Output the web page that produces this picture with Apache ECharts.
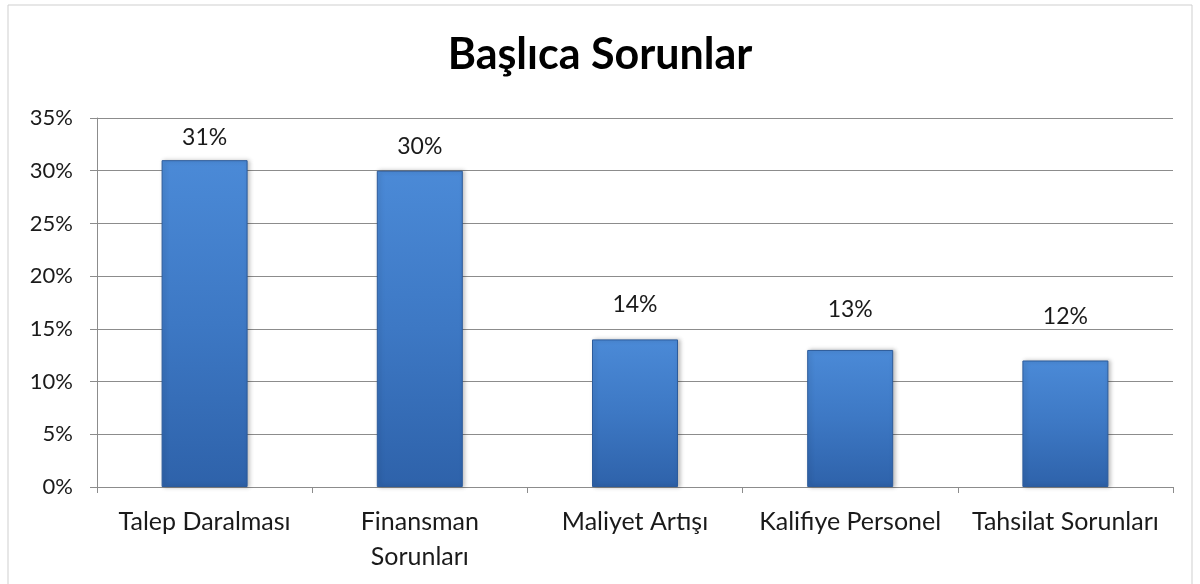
<!DOCTYPE html>
<html>
<head>
<meta charset="utf-8">
<script src="https://cdn.jsdelivr.net/npm/echarts@6/dist/echarts.min.js"></script>
<style>
  html, body { margin: 0; padding: 0; background: #fff; }
  #chart { width: 1200px; height: 584px; }
</style>
</head>
<body>
<div id="chart"></div>
<script>
const categories = ['Talep Daralması', 'Finansman\nSorunları', 'Maliyet Artışı', 'Kalifiye Personel', 'Tahsilat Sorunları'];
const values = [31, 30, 14, 13, 12];
const yTicks = [0, 5, 10, 15, 20, 25, 30, 35];
// gap between bar top and its label, as placed in the original
const labelGap = [11, 13, 23, 29, 32];

const font = 'Lato, "Open Sans", sans-serif';
const myChart = echarts.init(document.getElementById('chart'));
myChart.setOption({
  backgroundColor: '#fff',
  title: {
    text: 'Başlıca Sorunlar',
    left: 'center',
    top: 29,
    textStyle: { fontFamily: font, fontSize: 43, fontWeight: 'bold', color: '#000' }
  },
  graphic: [{
    type: 'rect',
    shape: { x: 8, y: 5, width: 1184, height: 600 },
    style: { fill: 'none', stroke: '#cfcfcf', lineWidth: 1 },
    silent: true
  }],
  grid: { left: 97, right: 27, top: 118, bottom: 97 },
  xAxis: {
    type: 'category',
    data: categories,
    axisLine: { lineStyle: { color: '#8c8c8c' } },
    axisTick: { show: true, length: 6, lineStyle: { color: '#8c8c8c' } },
    axisLabel: { fontFamily: font, fontSize: 25, color: '#1a1a1a', margin: 17, lineHeight: 35, interval: 0 }
  },
  yAxis: {
    type: 'value',
    min: yTicks[0],
    max: yTicks[yTicks.length - 1],
    interval: 5,
    axisLine: { show: true, lineStyle: { color: '#8c8c8c' } },
    axisTick: { show: true, length: 7, lineStyle: { color: '#8c8c8c' } },
    splitLine: { lineStyle: { color: '#8c8c8c' } },
    axisLabel: { fontFamily: font, fontSize: 22, color: '#1a1a1a', margin: 24, formatter: '{value}%' }
  },
  series: [{
    type: 'bar',
    data: values.map((v, i) => ({ value: v, label: { distance: labelGap[i] } })),
    barWidth: 86,
    itemStyle: {
      color: new echarts.graphic.LinearGradient(0, 0, 0, 1, [
        { offset: 0, color: '#4b8ad7' },
        { offset: 0.5, color: '#3d78c4' },
        { offset: 1, color: '#2e62aa' }
      ]),
      borderColor: '#2c5b9b',
      borderWidth: 1,
      shadowColor: 'rgba(0,0,0,0.25)',
      shadowBlur: 4,
      shadowOffsetX: 2,
      shadowOffsetY: 0
    },
    label: {
      show: true,
      position: 'top',
      formatter: '{c}%',
      fontFamily: font,
      fontSize: 23,
      color: '#1a1a1a'
    }
  }]
});
</script>
</body>
</html>
